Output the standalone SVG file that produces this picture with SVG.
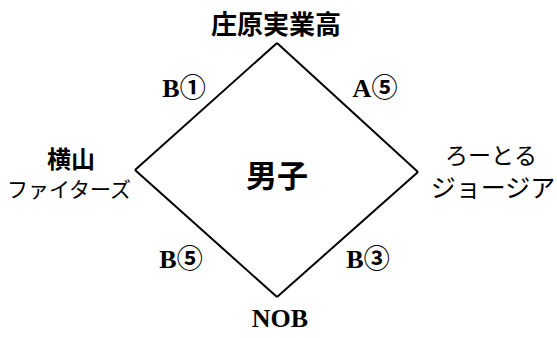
<svg xmlns="http://www.w3.org/2000/svg" width="557" height="338" viewBox="0 0 557 338">
<style>
.t{font-family:"Liberation Serif","Noto Sans CJK JP",serif;fill:#000;text-anchor:middle}
.b{font-weight:bold}
.l{font-size:26px;font-weight:bold}
.e{fill:none;stroke:#000;stroke-width:2}
</style>
<rect width="557" height="338" fill="#fff"/>
<g id="connectors">
<line class="e" x1="277" y1="43" x2="135" y2="170"/>
<line class="e" x1="277" y1="43" x2="418" y2="172"/>
<line class="e" x1="135" y1="170" x2="277" y2="297"/>
<line class="e" x1="418" y1="172" x2="277" y2="297"/>
</g>
<g id="center"><text class="t b" x="277" y="187" font-size="31">男子</text></g>
<g id="top"><text class="t b" x="276" y="34" font-size="26">庄原実業高</text></g>
<g id="left"><text class="t b" x="71" y="168" font-size="24">横山</text><text class="t" x="69" y="197" font-size="21">ファイターズ</text></g>
<g id="right"><text class="t" x="491" y="164" font-size="23">ろーとる</text><text class="t" x="493" y="197" font-size="25">ジョージア</text></g>
<g id="bottom"><text class="t b" x="280" y="327" font-size="26">NOB</text></g>
<g id="labels">
<text class="t l" x="184" y="97">B①</text>
<text class="t l" x="375" y="97">A⑤</text>
<text class="t l" x="181" y="268">B⑤</text>
<text class="t l" x="368" y="268">B③</text>
</g>
</svg>
